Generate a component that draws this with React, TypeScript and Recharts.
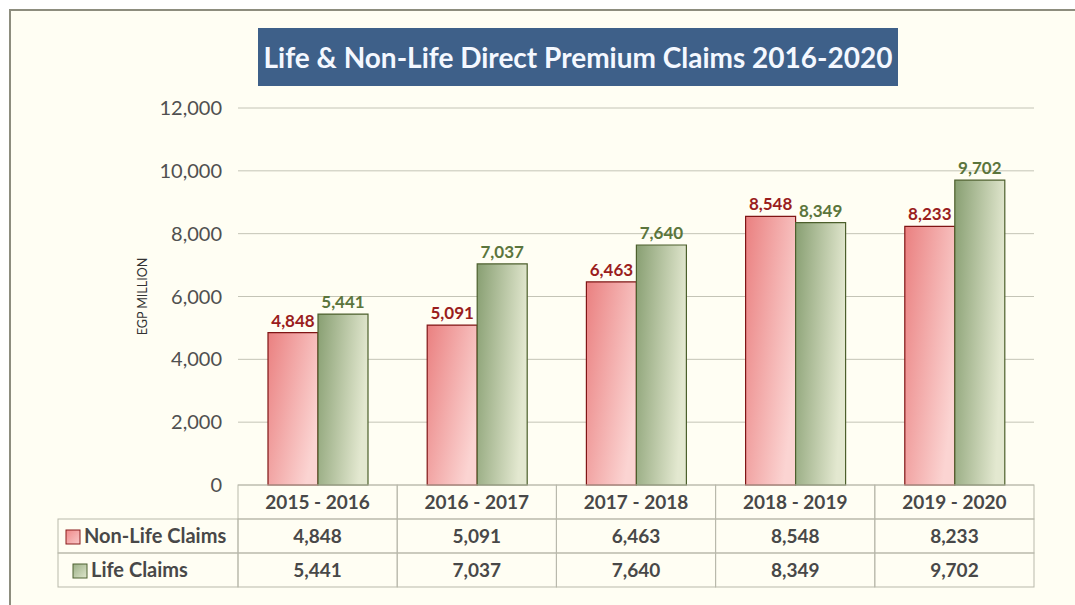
import { BarChart, Bar, XAxis, YAxis, CartesianGrid, LabelList } from 'recharts'

const periods = ['2015 - 2016', '2016 - 2017', '2017 - 2018', '2018 - 2019', '2019 - 2020']
const nonLifeClaims = [4848, 5091, 6463, 8548, 8233]
const lifeClaims = [5441, 7037, 7640, 8349, 9702]
const yTicks = [0, 2000, 4000, 6000, 8000, 10000, 12000]
const seriesNames = ['Non-Life Claims', 'Life Claims']

const data = periods.map((p, i) => ({ period: p, nonLife: nonLifeClaims[i], life: lifeClaims[i] }))

const W = 1075
const H = 605
const FONT = "Lato, 'Open Sans', sans-serif"
const GRID = '#c4c4b6'
const TABLE_LINE = '#b9b9ab'
const TEXT = '#484848'
const ROW_H = 34
const LABEL_COL_W = 180
const colW = (W - 238 - 41) / periods.length

const fmt = (v: number) => v.toLocaleString('en-US')

// header cell + the two value cells under each category
const TableTick = ({ x, y, payload, index }: any) => {
  const left = x - colW / 2
  const rows = [nonLifeClaims[index], lifeClaims[index]]
  return (
    <g>
      <rect x={left} y={y} width={colW} height={ROW_H} fill="none" stroke={TABLE_LINE} strokeWidth={1} />
      <text x={x} y={y + ROW_H / 2 + 7} textAnchor="middle" fontFamily={FONT} fontSize={19} fontWeight={700} fill={TEXT}>
        {payload.value}
      </text>
      {rows.map((v, r) => (
        <g key={r}>
          <rect x={left} y={y + ROW_H * (r + 1)} width={colW} height={ROW_H} fill="none" stroke={TABLE_LINE} strokeWidth={1} />
          <text x={x} y={y + ROW_H * (r + 1) + ROW_H / 2 + 7} textAnchor="middle" fontFamily={FONT} fontSize={19} fontWeight={700} fill={TEXT}>
            {fmt(v)}
          </text>
        </g>
      ))}
      {index === 0 &&
        seriesNames.map((name, r) => {
          const top = y + ROW_H * (r + 1)
          const lx = left - LABEL_COL_W
          return (
            <g key={name}>
              <rect x={lx} y={top} width={LABEL_COL_W} height={ROW_H} fill="none" stroke={TABLE_LINE} strokeWidth={1} />
              <rect
                x={lx + (r === 0 ? 8 : 15)}
                y={top + 11}
                width={14}
                height={14}
                fill={r === 0 ? 'url(#legRed)' : 'url(#legGreen)'}
                stroke={r === 0 ? '#8a1c1c' : '#4f6232'}
                strokeWidth={1}
              />
              <text x={lx + (r === 0 ? 26 : 33)} y={top + ROW_H / 2 + 7} fontFamily={FONT} fontSize={20} fontWeight={700} fill={TEXT}>
                {name}
              </text>
            </g>
          )
        })}
    </g>
  )
}

const YLabel = ({ viewBox }: any) => {
  const cy = viewBox.y + viewBox.height / 2
  return (
    <text x={147} y={cy} transform={`rotate(-90 147 ${cy})`} textAnchor="middle" fontFamily={FONT} fontSize={12.5} fill="#333">
      EGP MILLION
    </text>
  )
}

export default function App() {
  return (
    <div style={{ position: 'absolute', left: 0, top: 0, width: W, height: H, background: '#ffffff', overflow: 'hidden' }}>
      <div
        style={{
          position: 'absolute', left: 9, top: 9, width: W, height: H,
          borderLeft: '2px solid #8d8d7e', borderTop: '2px solid #8d8d7e', background: '#fffef3',
        }}
      />
      <div
        style={{
          position: 'absolute', left: 258, top: 28, width: 640, height: 58,
          background: '#3e6089', color: '#f4f8ff', fontFamily: FONT, fontWeight: 700, fontSize: 28,
          display: 'flex', alignItems: 'center', justifyContent: 'center', whiteSpace: 'nowrap',
        }}
      >
        Life &amp; Non-Life Direct Premium Claims 2016-2020
      </div>
      <div style={{ position: 'absolute', left: 0, top: 0 }}>
        <BarChart width={W} height={H} data={data} margin={{ top: 108, right: 41, bottom: 17, left: 0 }} barGap={0} barSize={50}>
          <defs>
            <linearGradient id="gRed" x1="0" y1="0" x2="1" y2="0.6">
              <stop offset="0%" stopColor="#ea8080" />
              <stop offset="100%" stopColor="#fbd4d2" />
            </linearGradient>
            <linearGradient id="gGreen" x1="0" y1="0" x2="1" y2="0.25">
              <stop offset="0%" stopColor="#889f72" />
              <stop offset="100%" stopColor="#e3e8d0" />
            </linearGradient>
            <linearGradient id="legRed" x1="0" y1="0" x2="1" y2="1">
              <stop offset="0%" stopColor="#ef8a8a" />
              <stop offset="100%" stopColor="#f9c8c8" />
            </linearGradient>
            <linearGradient id="legGreen" x1="0" y1="0" x2="1" y2="1">
              <stop offset="0%" stopColor="#9bb086" />
              <stop offset="100%" stopColor="#dfe6cc" />
            </linearGradient>
          </defs>
          <CartesianGrid vertical={false} stroke={GRID} strokeWidth={1} />
          <XAxis
            dataKey="period"
            height={103}
            tickSize={0}
            tickMargin={0}
            tickLine={false}
            axisLine={false}
            interval={0}
            tick={<TableTick />}
          />
          <YAxis
            width={238}
            domain={[0, 12000]}
            ticks={yTicks}
            tickLine={false}
            axisLine={false}
            tickMargin={10}
            tickFormatter={fmt}
            tick={{ fontFamily: FONT, fontSize: 20, fill: '#505050' }}
            label={<YLabel />}
          />
          <Bar dataKey="nonLife" fill="url(#gRed)" stroke="#7f1515" strokeWidth={1.2} isAnimationActive={false}>
            <LabelList dataKey="nonLife" position="top" offset={6} formatter={(v: any) => fmt(v)} fill="#9a1d1d" fontFamily={FONT} fontSize={17} fontWeight={700} />
          </Bar>
          <Bar dataKey="life" fill="url(#gGreen)" stroke="#4c5f2c" strokeWidth={1.2} isAnimationActive={false}>
            <LabelList dataKey="life" position="top" offset={6} formatter={(v: any) => fmt(v)} fill="#5b753c" fontFamily={FONT} fontSize={17} fontWeight={700} />
          </Bar>
        </BarChart>
      </div>
    </div>
  )
}
